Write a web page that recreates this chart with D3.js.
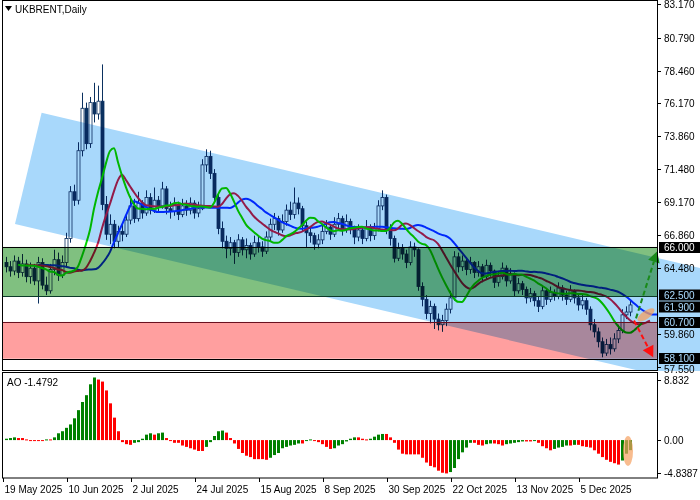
<!DOCTYPE html>
<html><head><meta charset="utf-8">
<script src="https://cdn.jsdelivr.net/npm/d3@7"></script>
<style>body{margin:0;background:#fff}svg{display:block}text{font-family:"Liberation Sans",Arial,sans-serif}</style>
</head><body><svg id="c" width="700" height="500"></svg>
<script>
const close=[64.6,64.3,65.0,64.2,64.8,63.9,64.5,63.6,64.9,63.3,
62.9,64.4,65.1,64.0,64.9,66.6,69.9,69.3,72.8,75.8,
73.3,76.2,75.4,76.3,69.0,66.9,67.6,66.4,67.1,66.9,
67.9,68.9,68.0,69.1,68.4,69.5,68.6,69.3,68.9,70.1,
68.7,68.5,69.0,68.3,68.9,68.6,69.1,68.4,68.7,71.8,
72.4,71.2,69.5,67.3,66.4,65.9,66.3,65.6,66.5,65.8,
66.1,65.5,66.3,66.0,65.7,66.7,67.6,68.0,67.2,67.8,
68.6,68.3,69.1,68.7,67.5,67.0,66.8,66.2,66.5,67.1,
67.4,66.9,67.6,68.0,67.2,67.8,67.3,66.7,67.2,66.6,
67.4,66.8,67.3,68.9,69.5,67.3,66.6,65.2,65.9,65.5,
64.9,66.0,65.8,63.2,62.3,61.3,61.8,60.9,60.5,60.8,
61.6,62.4,65.3,64.6,65.0,64.4,64.9,64.2,64.6,63.9,
64.7,64.3,63.5,63.9,64.5,63.6,64.1,62.9,63.4,63.0,
62.4,62.7,62.2,61.8,62.9,62.3,62.8,62.5,63.1,62.6,
62.3,62.9,62.4,61.9,62.2,61.6,60.5,60.0,59.3,58.5,
59.1,58.8,59.5,60.1,61.2,61.4,61.9];
const high=[65.3,65.0,65.4,65.3,65.5,65.1,64.9,64.8,65.3,65.2,
63.9,64.8,65.8,65.6,65.4,67.0,70.3,70.4,73.4,76.9,
76.2,76.6,77.6,77.4,78.9,69.6,68.3,67.9,67.5,67.6,
68.3,69.6,69.4,69.9,69.3,70.0,69.8,70.2,69.6,70.6,
70.3,69.2,69.5,69.2,69.4,69.3,69.5,69.3,69.2,72.2,
72.9,72.8,71.5,69.8,67.8,66.8,66.7,66.5,66.9,66.7,
66.6,66.3,66.8,66.7,66.4,67.1,68.0,68.4,68.2,68.3,
69.0,69.2,70.2,69.5,68.9,67.8,67.4,67.0,66.9,67.5,
67.9,67.6,68.1,68.4,68.2,68.3,68.0,67.5,67.6,67.4,
67.9,67.6,67.7,69.3,70.0,69.7,67.6,66.8,66.3,66.2,
65.8,66.4,66.3,65.9,63.5,62.6,62.2,62.0,61.3,61.2,
62.0,62.9,65.7,65.6,65.4,65.2,65.3,65.0,65.0,64.8,
65.1,64.9,64.4,64.3,64.9,64.7,64.5,64.2,63.8,63.6,
63.2,63.1,62.9,62.5,63.3,63.1,63.2,63.0,63.5,63.3,
62.9,63.3,63.0,62.6,62.6,62.4,61.8,60.9,60.3,59.6,
59.5,59.6,59.9,60.5,61.6,61.8,62.3];
const low=[64.2,63.9,64.0,63.8,63.9,63.5,63.4,63.3,62.0,63.0,
62.6,62.7,64.0,63.6,63.8,64.6,66.3,68.9,69.0,72.4,
72.9,73.0,74.8,75.0,68.6,66.5,66.2,65.9,66.0,66.4,
66.7,67.6,67.7,67.8,68.0,68.2,68.3,68.4,68.5,68.7,
68.3,68.0,68.2,67.9,68.1,68.2,68.3,68.0,68.1,68.6,
71.3,70.8,69.1,66.9,65.9,65.2,65.4,64.8,65.3,65.4,
65.2,65.1,65.3,65.6,65.3,65.5,66.4,67.2,66.8,67.0,
67.5,67.9,68.0,68.3,67.1,66.0,66.3,65.8,65.9,66.2,
66.9,66.5,66.7,67.2,66.8,67.0,66.9,66.2,66.4,66.2,
66.4,66.4,66.5,67.1,68.6,66.9,66.1,64.9,65.0,65.1,
64.5,64.7,65.3,62.9,61.8,60.9,60.6,60.2,60.1,60.0,
60.4,61.3,62.2,64.2,64.3,64.0,64.1,63.8,63.9,63.5,
63.7,63.9,63.1,63.2,63.7,63.2,63.4,62.5,62.7,62.6,
62.0,62.1,61.8,61.4,61.6,61.9,62.1,62.2,62.3,62.2,
61.9,62.1,62.0,61.5,61.6,61.2,60.1,59.6,58.9,58.2,
58.3,58.4,58.6,59.2,59.9,60.9,61.1];
const firstOpen=64.9;
const aoValues=[0.2,0.3,0.4,0.3,0.3,0.1,-0.1,-0.1,-0.1,-0.1,
0.1,0.1,0.4,1.0,1.3,1.8,2.3,3.2,4.4,5.6,
6.6,8.2,9.2,8.9,8.6,7.3,5.4,3.3,1.3,-0.3,
-0.6,-0.7,-0.4,-0.3,0.2,0.8,1.0,0.8,1.0,1.1,
0.3,-0.1,-0.4,-0.4,-0.8,-1.0,-1.2,-1.4,-1.6,-1.6,
-1.0,-0.3,0.6,1.3,1.4,1.1,0.3,-0.5,-1.3,-1.9,
-2.3,-2.5,-2.8,-2.8,-2.8,-2.9,-2.6,-2.2,-1.9,-1.2,
-1.0,-0.8,-0.7,-0.5,-0.5,-0.1,0.1,-0.1,-0.3,-0.6,
-1.0,
-1.3,-1.2,-0.8,-0.6,-0.2,0.2,0.4,0.4,0.2,0.1,
0.2,0.5,0.8,0.9,0.9,0.4,-0.4,-1.4,-2.0,-2.1,
-2.1,-2.1,-2.1,-2.6,-3.3,-3.8,-4.0,-4.5,-4.8,-4.9,
-4.7,-4.1,-2.8,-1.8,-1.1,-0.4,-0.4,-0.7,-0.8,-0.6,
-0.5,-0.5,-0.6,-0.8,-0.6,-0.5,-0.4,-0.3,-0.2,-0.2,
-0.2,-0.1,-0.4,-0.9,-1.2,-1.5,-1.3,-1.1,-1.0,-0.8,
-0.8,-0.7,-0.7,-0.9,-1.0,-1.1,-1.5,-2.0,-2.5,-2.9,
-3.2,-3.4,-3.6,-3.0,-2.0,-1.4792];
const dateLabels=["19 May 2025","10 Jun 2025","2 Jul 2025","24 Jul 2025","15 Aug 2025","8 Sep 2025","30 Sep 2025","22 Oct 2025","13 Nov 2025","5 Dec 2025"];
const dateIdx=[0,16,32,48,64,80,96,112,128,144];
const priceTicks=[83.170,80.790,78.460,76.170,73.860,71.480,69.170,66.860,64.480,59.860,57.550];
const boxLevels=[66.000,62.500,61.900,60.700,58.100];
const greenZone=[66.0,62.5], redZone=[60.7,58.1];
const channelPts=[[8.9,75.49],[173.5,64.51],[173.5,56.24],[2.25,67.62]];
const aoTicks=[8.832,0.00,-4.8387];

const svg=d3.select("#c");
const PR=657, MB=370, AT=373, AB=478;
const x=d3.scaleLinear().domain([0,156]).range([6,630]);
const y=d3.scaleLinear().domain([57.55,83.17]).range([366.5,4]);
const ya=d3.scaleLinear().domain([-4.8387,8.832]).range([473,380]);
const N=close.length;
const open=close.map((c,i)=>i?close[i-1]:firstOpen);
const defs=svg.append("defs");
defs.append("clipPath").attr("id","cm").append("rect").attr("x",2).attr("y",0).attr("width",PR-2).attr("height",MB);
defs.append("clipPath").attr("id","cw").append("rect").attr("x",2).attr("y",0).attr("width",698).attr("height",MB+1);
const g=svg.append("g").attr("clip-path","url(#cm)");
for(let i=0;i<N;i++){
  const cx=Math.round(x(i))+0.5, up=close[i]>=open[i];
  g.append("line").attr("x1",cx).attr("x2",cx).attr("y1",y(high[i])).attr("y2",y(low[i])).attr("stroke","#0b3160");
  const t=y(Math.max(open[i],close[i])), b=y(Math.min(open[i],close[i]));
  g.append("rect").attr("x",cx-1.5).attr("y",t).attr("width",3).attr("height",Math.max(1,b-t))
    .attr("fill",up?"#fff":"#0b3160").attr("stroke","#0b3160").attr("stroke-width",0.8);
}
const med=high.map((h,i)=>(h+low[i])/2);
function smma(n){const r=[];let v=med[0];for(let i=0;i<N;i++){v=i?(v*(n-1)+med[i])/n:v;r.push(v);}return r;}
[[13,8,"#0030ff"],[8,5,"#e0204a"],[5,3,"#00d800"]].forEach(([n,s,col])=>{
  const pts=smma(n).map((p,i)=>[x(i+s),y(p)]);
  g.append("path").attr("d",d3.line().curve(d3.curveMonotoneX)(pts)).attr("fill","none").attr("stroke",col).attr("stroke-width",2);
});
const ax=svg.append("g").style("font-size","10px");
priceTicks.forEach(p=>{
  const yy=Math.round(y(p))+0.5;
  ax.append("line").attr("x1",PR).attr("x2",PR+4).attr("y1",yy).attr("y2",yy).attr("stroke","#000");
  ax.append("text").attr("x",664).attr("y",yy+3.5+(p===57.55?2:0)).text(p.toFixed(3));
});
const nudge={62.5:-1.5,61.9:1.5,58.1:-1};
boxLevels.forEach(p=>{
  const yy=Math.round(y(p))+0.5+(nudge[p]||0);
  ax.append("rect").attr("x",659).attr("y",yy-5.5).attr("width",41).attr("height",11).attr("fill","#000");
  ax.append("text").attr("x",664).attr("y",yy+3.5).attr("fill","#fff").text(p.toFixed(3));
});
const ov=svg.append("g").attr("clip-path","url(#cw)").style("mix-blend-mode","multiply");
ov.append("rect").attr("x",2).attr("width",PR-2).attr("y",y(greenZone[0])).attr("height",y(greenZone[1])-y(greenZone[0])).attr("fill","#80c080").style("mix-blend-mode","multiply");
ov.append("rect").attr("x",2).attr("width",PR-2).attr("y",y(redZone[0])).attr("height",y(redZone[1])-y(redZone[0])).attr("fill","#ff9f9f").style("mix-blend-mode","multiply");
ov.append("path").attr("d","M"+channelPts.map(([i,p])=>[x(i),y(p)]).join("L")+"Z").attr("fill","#a8d8fb").style("mix-blend-mode","multiply");
[[greenZone[0],"#000"],[greenZone[1],"#0c3a28"],[redZone[0],"#6a1020"],[redZone[1],"#000"]].forEach(([p,c])=>{
  svg.append("line").attr("x1",2).attr("x2",PR).attr("y1",Math.round(y(p))+0.5).attr("y2",Math.round(y(p))+0.5).attr("stroke",c);
});
function arrow(i0,p0,i1,p1,col){
  const x0=x(i0),y0=y(p0),x1=x(i1),y1=y(p1);
  const ang=Math.atan2(y1-y0,x1-x0), L=11;
  const bx=x1-L*Math.cos(ang), by=y1-L*Math.sin(ang);
  svg.append("line").attr("x1",x0).attr("y1",y0).attr("x2",bx).attr("y2",by).attr("stroke",col).attr("stroke-width",2).attr("stroke-dasharray","5,3");
  const px=Math.sin(ang)*6, py=-Math.cos(ang)*6;
  svg.append("path").attr("d",`M${x1},${y1}L${bx+px},${by+py}L${bx-px},${by-py}Z`).attr("fill",col);
}
arrow(157.5,60.95,162.8,65.7,"#1a8a1a");
arrow(157,60.8,161.8,58.2,"#ff1010");
svg.append("ellipse").attr("cx",x(160)).attr("cy",y(61.2)).attr("rx",10).attr("ry",4)
  .attr("transform",`rotate(-35,${x(160)},${y(61.2)})`).attr("fill","#f5a060").attr("opacity",0.75);
aoValues.forEach((v,i)=>{
  const up=i===0?true:v>aoValues[i-1];
  const y0=ya(0), y1=ya(v);
  svg.append("rect").attr("x",Math.round(x(i))-1).attr("width",3).attr("y",Math.min(y0,y1)).attr("height",Math.max(1,Math.abs(y1-y0))).attr("fill",up?"#008000":"#ff0000");
});
svg.append("ellipse").attr("cx",x(155.5)).attr("cy",ya(-1.6)).attr("rx",5).attr("ry",15).attr("fill","#f5a060").attr("opacity",0.7);
svg.append("rect").attr("x",2.5).attr("y",0.5).attr("width",PR-2).attr("height",MB).attr("fill","none").attr("stroke","#000");
svg.append("rect").attr("x",2.5).attr("y",AT-0.5).attr("width",PR-2).attr("height",AB-AT+0.5).attr("fill","none").attr("stroke","#000");
const ax2=svg.append("g").style("font-size","10px");
aoTicks.forEach(v=>{
  const yy=Math.round(ya(v))+0.5;
  ax2.append("line").attr("x1",PR).attr("x2",PR+4).attr("y1",yy).attr("y2",yy).attr("stroke","#000");
  ax2.append("text").attr("x",664).attr("y",yy+3.5).text(v===0?"0.00":String(v));
});
dateIdx.forEach((d,k)=>{
  const xx=Math.round(x(d))-2.5;
  ax2.append("line").attr("x1",xx).attr("x2",xx).attr("y1",AB).attr("y2",AB+4).attr("stroke","#000");
  ax2.append("text").attr("x",xx+1).attr("y",493).text(dateLabels[k]);
});
svg.append("path").attr("d","M5,6L12,6L8.5,11Z").attr("fill","#000");
svg.append("text").attr("x",15).attr("y",13).style("font-size","10px").text("UKBRENT,Daily");
svg.append("text").attr("x",7).attr("y",386).style("font-size","10px").text("AO -1.4792");
</script></body></html>
